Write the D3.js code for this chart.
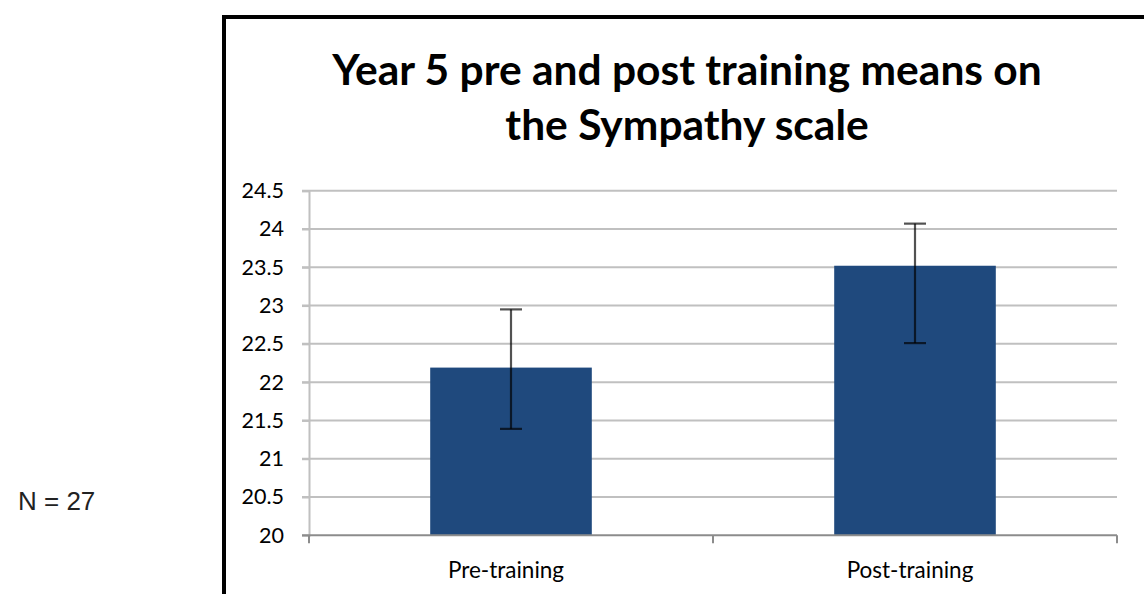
<!DOCTYPE html>
<html><head><meta charset="utf-8">
<script src="https://cdn.jsdelivr.net/npm/d3@7"></script>
<style>html,body{margin:0;padding:0;background:#fff;}svg{display:block;}</style>
</head><body>
<svg id="chart" width="1144" height="594"></svg>
<script>
const categories = ["Pre-training", "Post-training"];
const means = [22.19, 23.52];
const errUpper = [22.95, 24.07];
const errLower = [21.39, 22.51];
const yTicks = [20, 20.5, 21, 21.5, 22, 22.5, 23, 23.5, 24, 24.5];
const titleLines = ["Year 5 pre and post training means on", "the Sympathy scale"];
const note = "N = 27";

const svg = d3.select("#chart");
const font = "Lato, 'Open Sans', sans-serif";

// frame
svg.append("rect").attr("x", 224).attr("y", 17).attr("width", 1000).attr("height", 700)
  .attr("fill", "none").attr("stroke", "#000").attr("stroke-width", 4);

const x0 = 309, x1 = 1117, yTop = 190.7, yBot = 535.3;
const x = d3.scaleBand().domain(categories).range([x0, x1]).paddingInner(0).paddingOuter(0);
const y = d3.scaleLinear().domain([20, 24.5]).range([yBot, yTop]);

// gridlines
svg.append("g").selectAll("line").data(yTicks.filter(d => d > 20)).join("line")
  .attr("x1", x0 - 7).attr("x2", x1).attr("y1", d => y(d)).attr("y2", d => y(d))
  .attr("stroke", "#c0c0c0").attr("stroke-width", 2);

// y axis
const yAxis = svg.append("g").attr("transform", `translate(${x0},0)`)
  .call(d3.axisLeft(y).tickValues(yTicks).tickSize(7).tickPadding(18).tickFormat(d => String(d)));
yAxis.select(".domain").attr("stroke", "#c0c0c0").attr("stroke-width", 2);
yAxis.selectAll(".tick line").attr("stroke", "#c0c0c0").attr("stroke-width", 2);
yAxis.selectAll("text").attr("font-family", font).attr("font-size", 21.5).attr("fill", "#000");

// bars
const bw = x.bandwidth() * 0.4;
svg.append("g").selectAll("rect").data(categories).join("rect")
  .attr("x", d => x(d) + x.bandwidth() / 2 - bw / 2)
  .attr("width", bw)
  .attr("y", (d, i) => y(means[i]))
  .attr("height", (d, i) => y(20) - y(means[i]))
  .attr("fill", "#1F497D");

// x axis
const xAxis = svg.append("g").attr("transform", `translate(-5,${yBot})`)
  .call(d3.axisBottom(x).tickSize(0).tickPadding(27));
xAxis.select(".domain").remove();
xAxis.selectAll("text").attr("font-family", font).attr("font-size", 22.5).attr("fill", "#000");
svg.append("line").attr("x1", x0 - 7).attr("x2", x1).attr("y1", yBot).attr("y2", yBot)
  .attr("stroke", "#8c8c8c").attr("stroke-width", 2);
const bounds = [x0, x0 + x.bandwidth(), x1];
svg.append("g").selectAll("line").data(bounds).join("line")
  .attr("x1", d => d).attr("x2", d => d).attr("y1", yBot).attr("y2", yBot + 8)
  .attr("stroke", "#8c8c8c").attr("stroke-width", 2);

// error bars
const eb = svg.append("g").attr("stroke", "#000").attr("stroke-opacity", 0.68).attr("stroke-width", 2.2);
categories.forEach((c, i) => {
  const cx = x(c) + x.bandwidth() / 2;
  eb.append("line").attr("x1", cx).attr("x2", cx).attr("y1", y(errUpper[i])).attr("y2", y(errLower[i]));
  eb.append("line").attr("x1", cx - 11).attr("x2", cx + 11).attr("y1", y(errUpper[i])).attr("y2", y(errUpper[i]));
  eb.append("line").attr("x1", cx - 11).attr("x2", cx + 11).attr("y1", y(errLower[i])).attr("y2", y(errLower[i]));
});

// title
svg.append("g").selectAll("text").data(titleLines).join("text")
  .attr("x", 687).attr("y", (d, i) => 85 + i * 55)
  .attr("text-anchor", "middle").attr("font-family", font).attr("font-weight", 700)
  .attr("font-size", 42.5).attr("fill", "#000").text(d => d);

// note
svg.append("text").attr("x", 18).attr("y", 510).attr("font-family", "'Liberation Sans', Arial, sans-serif")
  .attr("font-size", 26).attr("fill", "#222").text(note);
</script>
</body></html>
